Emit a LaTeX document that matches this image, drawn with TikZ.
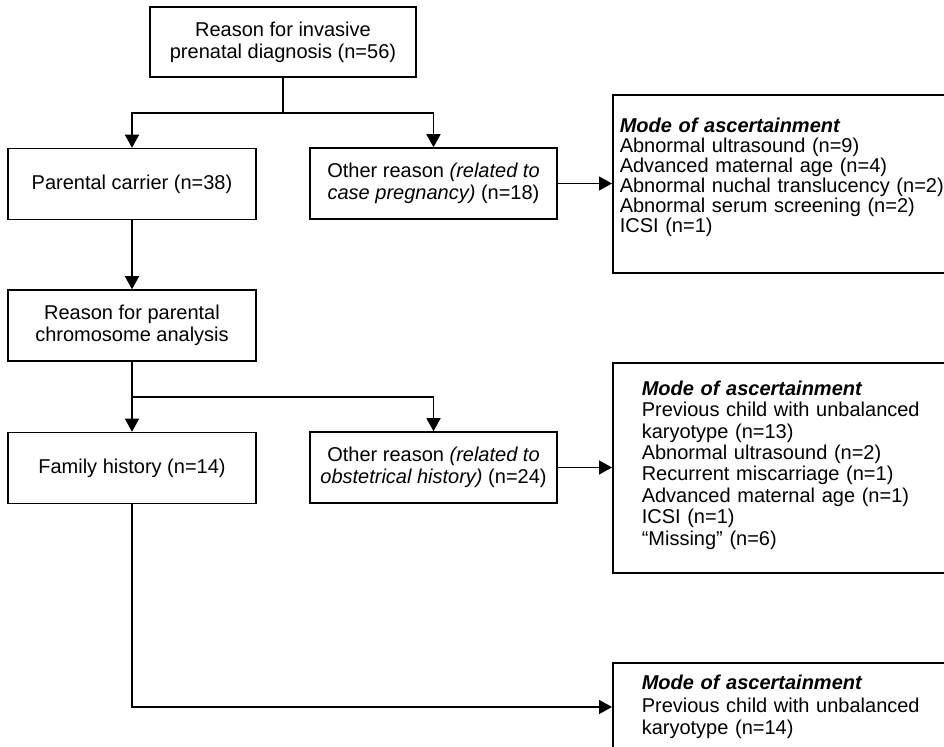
\documentclass[tikz,border=0pt]{standalone}
\usepackage{fontspec}
\setmainfont{Liberation Sans}
\usetikzlibrary{positioning}
\usetikzlibrary{arrows.meta,calc}
\tikzstyle{box}=[rectangle,draw,line width=0.75pt,minimum width=124pt,minimum height=35.5pt,inner sep=2pt,align=center,font=\fontsize{10}{11}\selectfont]
\tikzstyle{modebox}=[rectangle,draw,line width=0.75pt,anchor=west,align=left,inner ysep=4pt]
\tikzstyle{edge} = [draw,line width=0.75pt,-{Triangle[length=6.5pt,width=7pt]}]
\tikzstyle{undirectededge} = [draw,line width=0.75pt]

\begin{document}
\begin{tikzpicture}[x=0.5pt,y=-0.5pt]
    \clip (0,0) rectangle (944,747);

    \node[box,minimum width=133pt,minimum height=35pt] (top) at (283,42) {Reason for invasive\\prenatal diagnosis (n=56)};

    \foreach \pos/\name/\label in {{(132,184)/carrier/Parental carrier (n=38)}, {(132,325.5)/parental/Reason for parental\\chromosome analysis}, {(132,468)/family/Family history (n=14)}}
        \node[box] (\name) at \pos {\label};

    \foreach \pos/\name/\label in {{(433.5,183.5)/other1/Other reason \textit{(related to}\\\textit{case pregnancy)} (n=18)}, {(433.5,467.5)/other2/Other reason \textit{(related to}\\\textit{obstetrical history)} (n=24)}}
        \node[box,minimum width=123.5pt] (\name) at \pos {\label};

    \node[modebox,inner xsep=3.5pt,text width=170pt,minimum height=89pt,font=\fontsize{10}{10}\selectfont] (mode1) at (612,184) {\textbf{\textit{Mode of ascertainment}}\\Abnormal ultrasound (n=9)\\Advanced maternal age (n=4)\\Abnormal nuchal translucency (n=2)\\Abnormal serum screening (n=2)\\ICSI (n=1)\rule[-9pt]{0pt}{0pt}};
    \node[modebox,inner xsep=14.5pt,text width=150pt,minimum height=105pt,font=\fontsize{10}{10.7}\selectfont] (mode2) at (612,468) {\textbf{\textit{Mode of ascertainment}}\\Previous child with unbalanced\\karyotype (n=13)\\Abnormal ultrasound (n=2)\\Recurrent miscarriage (n=1)\\Advanced maternal age (n=1)\\ICSI (n=1)\\``Missing'' (n=6)\rule[-5pt]{0pt}{0pt}};
    \node[modebox,inner xsep=14.5pt,text width=150pt,minimum height=44pt,font=\fontsize{10}{11.4}\selectfont] (mode3) at (612,707) {\textbf{\textit{Mode of ascertainment}}\\Previous child with unbalanced\\karyotype (n=14)};

    \coordinate (split1) at (283,113);
    \coordinate (split2) at (132,397);

    \path[undirectededge] (top) -- (split1);
    \path[undirectededge] (parental) -- (split2);

    \foreach \source/ \dest in {split1/carrier, split1/other1, split2/family, split2/other2}
        \path[edge] (\source) -| (\dest);

    \path[edge] (carrier) -- (parental);
    \path[edge] (other1.east) -- (other1.east -| mode1.west);
    \path[edge] (other2.east) -- (other2.east -| mode2.west);
    \path[edge] (family) |- (mode3);

    \end{tikzpicture}
\end{document}
